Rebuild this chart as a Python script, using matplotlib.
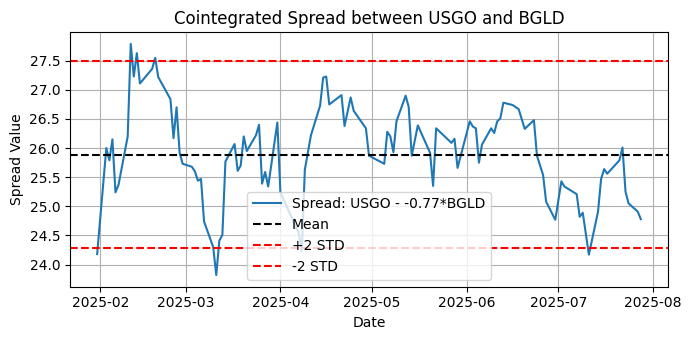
import matplotlib
matplotlib.use("Agg")
import matplotlib.pyplot as plt
from matplotlib.ticker import MultipleLocator
import pandas as pd

dates = [
    "2025-01-31", "2025-02-03", "2025-02-04", "2025-02-05", "2025-02-06", "2025-02-07",
    "2025-02-10", "2025-02-11", "2025-02-12", "2025-02-13", "2025-02-14", "2025-02-18",
    "2025-02-19", "2025-02-20", "2025-02-24", "2025-02-25", "2025-02-26", "2025-02-27",
    "2025-02-28", "2025-03-03", "2025-03-04", "2025-03-05", "2025-03-06", "2025-03-07",
    "2025-03-10", "2025-03-11", "2025-03-12", "2025-03-13", "2025-03-14", "2025-03-17",
    "2025-03-18", "2025-03-19", "2025-03-20", "2025-03-21", "2025-03-24", "2025-03-25",
    "2025-03-26", "2025-03-27", "2025-03-28", "2025-03-31", "2025-04-01", "2025-04-07",
    "2025-04-08", "2025-04-09", "2025-04-11", "2025-04-14", "2025-04-15", "2025-04-16",
    "2025-04-17", "2025-04-21", "2025-04-22", "2025-04-24", "2025-04-25", "2025-04-29",
    "2025-04-30", "2025-05-05", "2025-05-06", "2025-05-07", "2025-05-08", "2025-05-09",
    "2025-05-12", "2025-05-13", "2025-05-14", "2025-05-16", "2025-05-20", "2025-05-21",
    "2025-05-22", "2025-05-27", "2025-05-28", "2025-05-29", "2025-06-02", "2025-06-03",
    "2025-06-04", "2025-06-05", "2025-06-06", "2025-06-09", "2025-06-10", "2025-06-11",
    "2025-06-12", "2025-06-13", "2025-06-16", "2025-06-18", "2025-06-20", "2025-06-23",
    "2025-06-24", "2025-06-26", "2025-06-27", "2025-06-30", "2025-07-02", "2025-07-03",
    "2025-07-07", "2025-07-08", "2025-07-09", "2025-07-11", "2025-07-14", "2025-07-15",
    "2025-07-16", "2025-07-17", "2025-07-21", "2025-07-22", "2025-07-23", "2025-07-24",
    "2025-07-27", "2025-07-28",
]
spread = [
    24.18, 26.00, 25.79, 26.15, 25.24, 25.37,
    26.20, 27.79, 27.23, 27.63, 27.11, 27.36,
    27.55, 27.22, 26.84, 26.17, 26.70, 25.92,
    25.73, 25.68, 25.60, 25.44, 25.47, 24.74,
    24.30, 23.82, 24.41, 24.51, 25.77, 26.07,
    25.61, 25.70, 26.20, 25.95, 26.22, 26.40,
    25.39, 25.59, 25.34, 26.44, 25.24, 24.54,
    24.23, 25.63, 26.22, 26.73, 27.21, 27.23,
    26.75, 26.91, 26.38, 26.87, 26.64, 26.34,
    25.87, 25.73, 26.28, 26.20, 25.93, 26.46,
    26.90, 26.71, 25.87, 26.39, 25.92, 25.35,
    26.34, 26.09, 26.16, 25.66, 26.46, 26.37,
    26.34, 25.75, 26.06, 26.34, 26.26, 26.46,
    26.51, 26.78, 26.74, 26.67, 26.33, 26.48,
    25.87, 25.54, 25.08, 24.77, 25.43, 25.34,
    25.21, 24.82, 24.89, 24.17, 24.91, 25.47,
    25.64, 25.56, 25.79, 26.01, 25.25, 25.05,
    24.91, 24.78,
]
mean_val = 25.89
std_val = 0.80
hedge_ratio = -0.77

x = pd.to_datetime(dates)

fig, ax = plt.subplots(figsize=(6.88, 3.4), dpi=100)
ax.plot(x, spread, color="#1f77b4", label=f"Spread: USGO - {hedge_ratio}*BGLD")
ax.axhline(mean_val, color="black", linestyle="--", label="Mean")
ax.axhline(mean_val + 2 * std_val, color="red", linestyle="--", label="+2 STD")
ax.axhline(mean_val - 2 * std_val, color="red", linestyle="--", label="-2 STD")
ax.set_title("Cointegrated Spread between USGO and BGLD")
ax.set_xlabel("Date")
ax.set_ylabel("Spread Value")
ax.yaxis.set_major_locator(MultipleLocator(0.5))
ax.grid(True)
ax.legend(loc="lower center")
fig.subplots_adjust(left=0.1017, right=0.9709, top=0.905, bottom=0.157)
fig.savefig("out.png", dpi=100)
